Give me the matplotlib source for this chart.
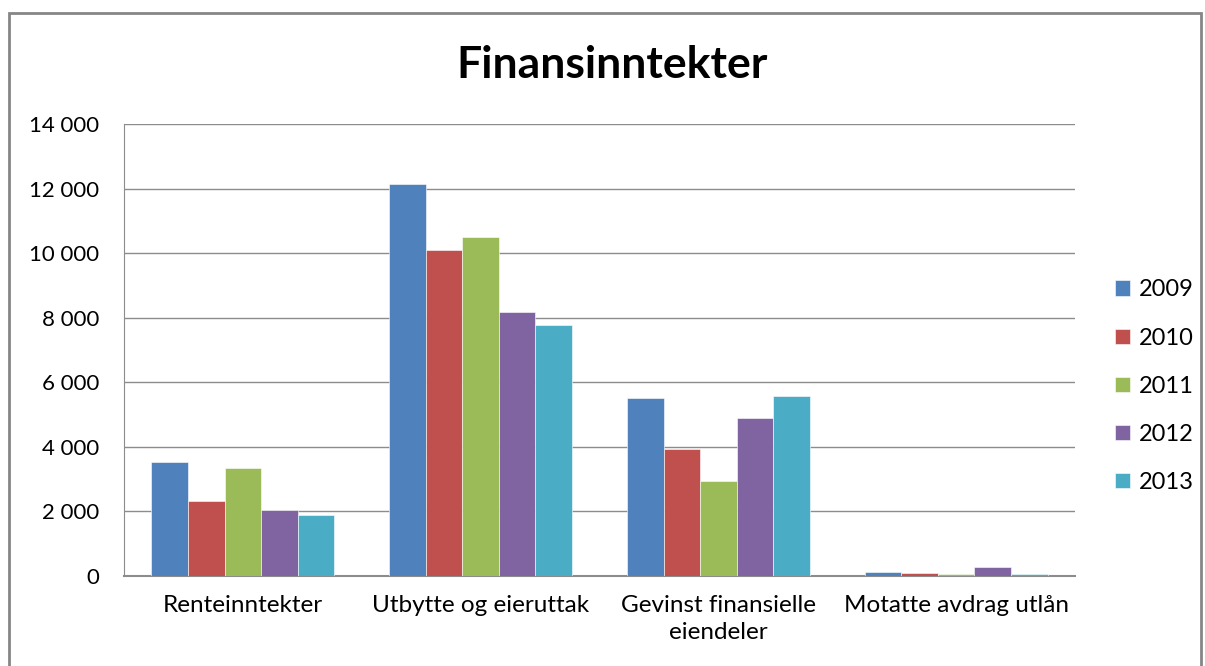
import numpy as np
import matplotlib
matplotlib.use("Agg")
import matplotlib.pyplot as plt
from matplotlib.patches import Rectangle
from matplotlib.ticker import FuncFormatter

categories = ["Renteinntekter", "Utbytte og eieruttak", "Gevinst finansielle\neiendeler", "Motatte avdrag utlån"]
years = ["2009", "2010", "2011", "2012", "2013"]
values = {
    "2009": [3530, 12140, 5510, 115],
    "2010": [2320, 10100, 3930, 85],
    "2011": [3345, 10500, 2940, 75],
    "2012": [2045, 8175, 4890, 280],
    "2013": [1890, 7775, 5575, 50],
}
colors = ["#4F81BD", "#C0504D", "#9BBB59", "#8064A2", "#4BACC6"]

plt.rcParams['font.family'] = ['Lato', 'DejaVu Sans']

fig = plt.figure(figsize=(12.05, 6.66), dpi=100)
# outer chart border
fig.patches.append(Rectangle((9 / 1205, -0.01), 1192 / 1205, 1 - 13 / 666 + 0.01,
                             transform=fig.transFigure, fill=False,
                             edgecolor="#868686", linewidth=2))

ax = fig.add_axes([124 / 1205, 1 - 576 / 666, (1075 - 124) / 1205, (576 - 124) / 666])

x = np.arange(len(categories))
w = 1 / 6.5
for i, y in enumerate(years):
    ax.bar(x + (i - 2) * w, values[y], width=w, color=colors[i], label=y,
           edgecolor="white", linewidth=0.4, zorder=3)

ax.set_xlim(-0.5, len(categories) - 0.5)
ax.set_ylim(0, 14000)
ax.set_yticks(np.arange(0, 14001, 2000))
ax.yaxis.set_major_formatter(FuncFormatter(lambda v, p: f"{int(v):,}".replace(",", " ")))
ax.grid(axis="y", color="#8c8c8c", linewidth=1, zorder=0)
ax.set_xticks(x)
ax.set_xticklabels(categories, linespacing=1.3)
ax.tick_params(axis="y", length=0, labelsize=16, colors="black", pad=18)
ax.tick_params(axis="x", length=0, labelsize=17.5, colors="black", pad=14)

for s in ["top", "right"]:
    ax.spines[s].set_visible(False)
ax.spines["left"].set_color("#8c8c8c")
ax.spines["bottom"].set_color("#8c8c8c")
ax.spines["bottom"].set_linewidth(1.5)

fig.text(612 / 1205, 1 - 65 / 666, "Finansinntekter", ha="center", va="center",
         fontsize=32, fontweight="bold")

leg = ax.legend(loc="center left", bbox_to_anchor=(1.042, 0.42), frameon=False,
                borderpad=0, borderaxespad=0,
                fontsize=17, handlelength=0.62, handleheight=0.62,
                handletextpad=0.4, labelspacing=1.15)

fig.savefig("out.png", dpi=100)
